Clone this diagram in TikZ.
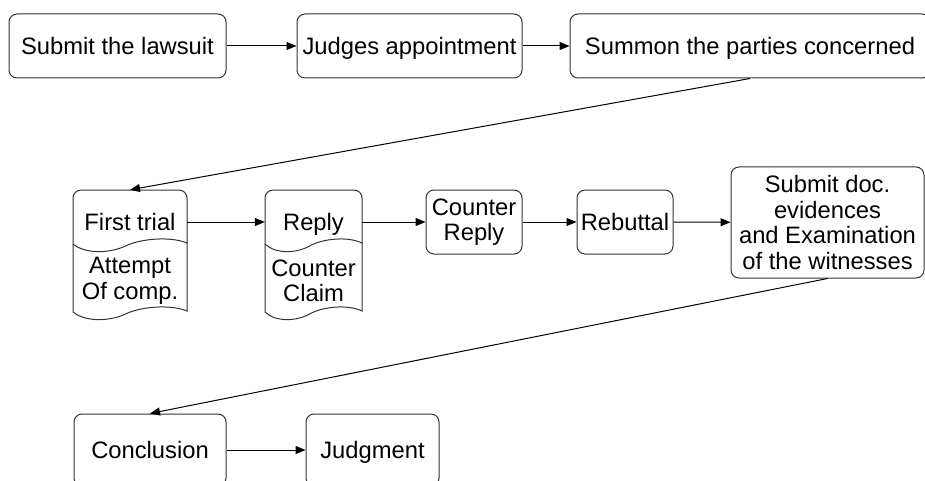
\documentclass[tikz,border=0pt]{standalone}
\usepackage{fontspec}
\setmainfont{Liberation Sans}
\usetikzlibrary{arrows.meta}
\newcommand\twodoc[2]{%
  \draw[docline, rounded corners=8pt] (#1,244) -- (#1,190) -- (#2,190) [sharp corners] -- (#2,243)
    .. controls ({#1+0.85*(#2-#1)},236) and ({#1+0.6*(#2-#1)},239) .. ({#1+0.48*(#2-#1)},245)
    .. controls ({#1+0.325*(#2-#1)},254) and ({#1+0.105*(#2-#1)},254) .. cycle;
  \draw[docline] (#1,244) -- (#1,312)
    .. controls ({#1+0.105*(#2-#1)},322) and ({#1+0.325*(#2-#1)},322) .. ({#1+0.48*(#2-#1)},313)
    .. controls ({#1+0.6*(#2-#1)},307) and ({#1+0.85*(#2-#1)},304) .. (#2,311) -- (#2,243);
}
\begin{document}
\begin{tikzpicture}[x=1pt,y=-1pt,
  txt/.style={align=center, inner sep=0pt, font=\fontsize{23.75}{25.5}\selectfont},
  one/.style={text height=17pt, text depth=0pt},
  box/.style={txt, draw=black!80, line width=1pt, rounded corners=8pt},
  conn/.style={-{Triangle[length=10pt,width=8pt]}, line width=1pt, black},
  docline/.style={draw=black!80, line width=1pt}]
\useasboundingbox (0,0) rectangle (925,481);
% top row
\node[box, one, minimum width=217pt, minimum height=64pt] (s1) at (117.5,46) {Submit the lawsuit};
\node[box, one, minimum width=225pt, minimum height=64pt] (s2) at (409.5,46) {Judges appointment};
\node[box, one, minimum width=360pt, minimum height=64pt] (s3) at (750,46) {Summon the parties concerned};
% middle row
\twodoc{73}{187}
\twodoc{265}{362}
\node[txt, one, minimum width=114pt, minimum height=64pt] (ft) at (130,222) {First trial};
\node[txt] (ac) at (130,281) {Attempt\\Of comp.};
\node[txt, one, minimum width=97pt, minimum height=64pt] (rp) at (313.5,222) {Reply};
\node[txt] (cc) at (313.5,281) {Counter\\Claim};
\node[box, minimum width=96pt, minimum height=64pt] (cr) at (474,222) {Counter\\Reply};
\node[box, one, minimum width=96pt, minimum height=64pt] (rb) at (625,222) {Rebuttal};
\node[box, minimum width=193pt, minimum height=111pt] (sd) at (827.5,222.5) {Submit doc.\\evidences\\and Examination\\of the witnesses};
% bottom row
\node[box, one, minimum width=152pt, minimum height=72pt] (cl) at (150,450) {Conclusion};
\node[box, one, minimum width=133pt, minimum height=72pt] (jd) at (372.5,450) {Judgment};
% connectors
\draw[conn] (s1) -- (s2);
\draw[conn] (s2) -- (s3);
\draw[conn] (s3.south) -- (ft.north);
\draw[conn] (ft.east) -- (rp.west);
\draw[conn] (rp.east) -- (cr.west);
\draw[conn] (cr) -- (rb);
\draw[conn] (rb) -- (sd);
\draw[conn] (sd.south) -- (cl.north);
\draw[conn] (cl) -- (jd);
\end{tikzpicture}
\end{document}
